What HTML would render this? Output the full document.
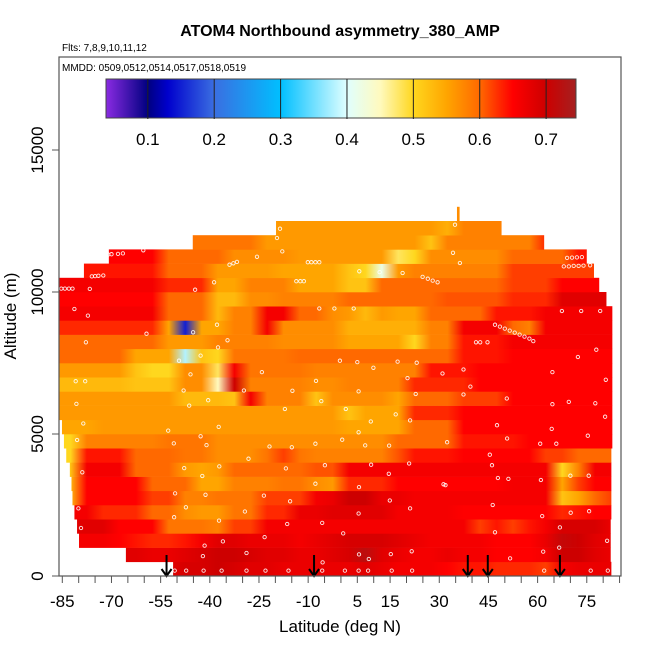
<!DOCTYPE html>
<html><head><meta charset="utf-8"><style>
html,body{margin:0;padding:0;background:#fff}
svg{display:block;font-family:"Liberation Sans",Arial,sans-serif}
</style></head><body>
<svg id="chart" width="650" height="650" viewBox="0 0 650 650" xmlns="http://www.w3.org/2000/svg">
<defs id="defs">
<clipPath id="plotclip"><rect x="59" y="57" width="562" height="519"/></clipPath>
<linearGradient id="cbgrad" x1="0" x2="1" y1="0" y2="0"></linearGradient>
</defs>
<text x="340" y="36" font-size="16" font-weight="bold" text-anchor="middle">ATOM4 Northbound asymmetry_380_AMP</text>
<text x="62" y="51" font-size="10">Flts: 7,8,9,10,11,12</text>
<g id="cells" clip-path="url(#plotclip)"></g>
<g id="points" clip-path="url(#plotclip)"></g>
<g id="arrows"></g>
<rect x="59" y="57" width="562" height="519" fill="none" stroke="#555" stroke-width="1.2"/>
<text x="62" y="71" font-size="10">MMDD: 0509,0512,0514,0517,0518,0519</text>
<g id="colorbar"></g>
<g id="xaxis"></g>
<g id="yaxis"></g>
<text x="340" y="632" font-size="17" text-anchor="middle">Latitude (deg N)</text>
<text x="16" y="316" font-size="17" text-anchor="middle" transform="rotate(-90 16 316)">Altitude (m)</text>
</svg>
<script>
// ---- data ----
const binStartLats = [-90,-85,-80,-75,-70,-65,-60,-55,-50,-45,-40,-35,-30,-25,-20,-15,-10,-5,0,5,10,15,20,25,30,35,40,45,50,55,60,65,70,75,80];
const rowBottomAlts = [0,500,1000,1500,2000,2500,3000,3500,4000,4500,5000,5500,6000,6500,7000,7500,8000,8500,9000,9500,10000,10500,11000,11500,12000];
const rowLeftLats = [-51.2,-65.6,-79.9,-80.5,-81.3,-81.9,-82.2,-82.7,-83.8,-84.5,-85.1,-90,-90,-90,-90,-90,-90,-90,-90,-90,-90,-78.4,-70.8,-45.2,-19.8];
const rowRightLats = [82.5,82.3,82.3,82.3,82.5,82.5,82.5,82.5,82.5,82.8,82.8,82.8,82.8,82.8,82.8,82.8,82.8,82.8,82.8,81,78.8,77.2,75,62,49];
const row0 = [.68,.68,.68,.68,.68,.68,.68,.68,.69,.69,.7,.69,.68,.68,.67,.67,.67,.67,.67,.68,.67,.66,.66,.66,.65,.64,.64,.63,.63,.63,.62,.66,.67,.67,.67];
const row1 = [.68,.68,.68,.68,.68,.68,.67,.67,.68,.69,.7,.7,.69,.68,.68,.67,.67,.68,.69,.72,.68,.67,.66,.66,.67,.66,.66,.65,.65,.65,.66,.7,.7,.68,.67];
const row2 = [.66,.66,.66,.66,.65,.64,.63,.63,.64,.66,.68,.68,.67,.67,.67,.66,.67,.68,.69,.69,.69,.68,.67,.66,.66,.66,.66,.65,.65,.65,.67,.71,.7,.68,.67];
const row3 = [.68,.68,.68,.68,.65,.65,.65,.59,.59,.59,.58,.62,.62,.66,.66,.66,.66,.66,.66,.66,.66,.66,.66,.66,.66,.66,.62,.64,.62,.64,.66,.69,.69,.69,.67];
const row4 = [.66,.66,.66,.63,.63,.63,.6,.6,.57,.56,.56,.59,.59,.63,.63,.67,.67,.68,.68,.68,.68,.66,.66,.66,.66,.65,.65,.65,.65,.65,.65,.63,.64,.65,.65];
const row5 = [.52,.53,.65,.65,.65,.65,.62,.62,.58,.58,.59,.59,.59,.62,.62,.62,.66,.67,.7,.7,.67,.67,.66,.66,.66,.66,.66,.66,.66,.66,.66,.52,.55,.6,.62];
const row6 = [.53,.53,.65,.65,.65,.65,.6,.6,.6,.55,.55,.58,.58,.58,.59,.59,.57,.56,.63,.63,.63,.65,.65,.65,.65,.65,.65,.65,.66,.66,.66,.55,.62,.65,.65];
const row7 = [.52,.52,.66,.66,.66,.6,.6,.6,.56,.55,.56,.6,.6,.6,.6,.6,.61,.61,.66,.66,.66,.66,.66,.66,.66,.66,.66,.66,.66,.66,.66,.5,.58,.66,.66];
const row8 = [.5,.5,.64,.64,.64,.6,.6,.6,.59,.59,.57,.57,.57,.59,.62,.59,.58,.58,.58,.58,.58,.61,.64,.64,.64,.65,.65,.65,.65,.65,.62,.62,.6,.6,.6];
const row9 = [.5,.5,.58,.58,.58,.58,.58,.59,.59,.59,.57,.57,.57,.57,.57,.57,.57,.57,.57,.57,.57,.6,.6,.6,.6,.64,.64,.64,.64,.65,.65,.65,.65,.65,.65];
const row10 = [.55,.55,.55,.56,.56,.56,.56,.56,.56,.56,.56,.56,.56,.56,.56,.56,.56,.56,.55,.55,.55,.55,.6,.6,.6,.65,.65,.65,.65,.65,.65,.65,.65,.65,.65];
const row11 = [.56,.56,.56,.56,.56,.56,.56,.56,.56,.56,.56,.56,.56,.56,.56,.56,.56,.56,.52,.55,.55,.55,.63,.63,.63,.65,.65,.65,.65,.65,.65,.65,.65,.65,.65];
const row12 = [.56,.56,.56,.56,.56,.56,.56,.56,.53,.53,.53,.52,.66,.58,.58,.58,.52,.57,.57,.57,.57,.55,.6,.6,.6,.62,.62,.62,.65,.65,.65,.65,.65,.65,.65];
const row13 = [.53,.53,.53,.53,.53,.52,.52,.52,.57,.57,.45,.7,.58,.58,.58,.58,.57,.57,.58,.58,.58,.58,.63,.63,.63,.63,.65,.65,.65,.65,.65,.65,.65,.65,.65];
const row14 = [.56,.56,.56,.56,.56,.52,.5,.5,.57,.57,.48,.66,.59,.59,.59,.59,.58,.58,.58,.58,.58,.58,.58,.64,.64,.64,.65,.65,.65,.65,.65,.65,.65,.65,.65];
const row15 = [.6,.6,.6,.6,.6,.55,.55,.55,.38,.52,.5,.59,.59,.59,.59,.6,.6,.6,.6,.6,.6,.6,.6,.6,.6,.64,.64,.64,.65,.65,.65,.65,.65,.65,.65];
const row16 = [.6,.6,.6,.6,.6,.6,.6,.56,.56,.56,.58,.58,.58,.58,.57,.57,.57,.57,.55,.55,.55,.55,.5,.58,.58,.64,.64,.64,.66,.66,.66,.66,.66,.66,.66];
const row17 = [.63,.63,.63,.63,.63,.63,.63,.55,.15,.55,.55,.58,.58,.66,.57,.57,.57,.57,.54,.54,.54,.54,.54,.58,.58,.66,.66,.66,.6,.58,.66,.66,.66,.66,.66];
const row18 = [.66,.66,.66,.66,.66,.66,.66,.6,.6,.6,.53,.58,.58,.66,.66,.6,.6,.57,.56,.53,.56,.55,.55,.6,.6,.6,.6,.64,.64,.64,.66,.66,.66,.66,.66];
const row19 = [.65,.65,.65,.65,.65,.65,.65,.6,.6,.6,.53,.53,.57,.57,.58,.58,.58,.58,.6,.6,.6,.6,.6,.6,.61,.61,.61,.61,.63,.63,.63,.68,.68,.68,.68];
const row20 = [.66,.66,.66,.66,.66,.66,.66,.63,.63,.63,.55,.55,.58,.58,.58,.55,.55,.55,.52,.52,.6,.6,.6,.6,.6,.6,.6,.6,.62,.62,.62,.65,.65,.65,.65];
const row21 = [.64,.64,.64,.64,.64,.64,.64,.6,.6,.6,.56,.56,.56,.56,.55,.55,.55,.55,.52,.5,.42,.56,.58,.58,.58,.58,.58,.58,.62,.62,.62,.62,.62,.62,.62];
const row22 = [.65,.65,.65,.65,.65,.65,.65,.6,.6,.6,.6,.57,.57,.57,.57,.56,.56,.56,.56,.56,.56,.48,.5,.57,.57,.57,.57,.57,.6,.6,.6,.6,.64,.64,.64];
const row23 = [.59,.59,.59,.59,.59,.59,.59,.59,.59,.59,.59,.59,.59,.56,.56,.56,.56,.56,.56,.56,.56,.56,.56,.52,.58,.58,.58,.58,.58,.58,.63,.63,.63,.63,.63];
const row24 = [.56,.56,.56,.56,.56,.56,.56,.56,.56,.56,.56,.56,.56,.56,.56,.56,.56,.56,.56,.56,.56,.56,.56,.56,.54,.58,.58,.58,.58,.58,.58,.58,.58,.58,.58];
const rowValues = [row0,row1,row2,row3,row4,row5,row6,row7,row8,row9,row10,row11,row12,row13,row14,row15,row16,row17,row18,row19,row20,row21,row22,row23,row24];
const spikeLat = [35.4, 36.2];
const spikeAlt = [12500, 13000];
const spikeValue = 0.57;
const pointLats = [-50.7,-47.2,-41.9,-36.4,-28.8,-23,-16,-5.7,1.2,5.4,8.3,15.5,21.7,62,76.2,81.4,-41.6,-36,-23.3,-28.8,-42.1,-5.6,5.5,8.5,15.2,21.6,51.6,61.7,66.6,81.2,66.8,61.4,70.1,75.7,47,46.3,47.9,51.1,61,70,75.6,46.1,45.4,47.6,50.7,60.8,65.7,75.3,80.6,64.3,80.8,64.5,72.3,77.9,64.5,69.5,77.6,50.6,37.4,39.5,37.4,31,32.4,31.9,20.8,21.1,14.7,14.6,9.2,5.5,5.4,0.7,-5.7,-4.9,-7.8,-7.8,0.4,-6,-7.6,-0.3,5,9.9,17.3,23.1,20.3,22.8,16.7,9.1,5.4,7.4,1.5,5.4,-14.8,-17.1,-24.1,-29.6,-40.5,-46.3,-48,-45.9,-49.4,-42.8,-37.5,-34.6,-37.8,-45.1,-59.3,-77.8,-80.9,-78,-80.7,-78.6,-80.5,-78.9,-80.1,-79.3,-52.7,-37.3,-42.8,-51,-41,-21.8,-15,-28.2,-37.1,-47.8,-42.3,-50.6,-47.3,-50.9,-37.2,-41.3,-29.3,-23.5,-16.8,-15.5,-16.4,14.9,21.1,31.3,-77.2,-81.3,-85.3,-84.2,-83,-81.9,-76.6,-76,-75,-74,-72.5,-71,-70,-68,-66.5,-60.3,-44.5,-38.7,-34,-32.8,-31.7,-25.6,-17.9,-19.5,-18.6,-10.1,-9,-7.8,-6.6,-13.6,-12.4,-11.3,5.6,11.8,18.8,24.9,26.5,28,29.5,34.2,36.3,34.8,68,69.5,71,72.5,74,76,69,70.5,72,73.5,47,48.5,50,51.5,53,54.5,56,57.5,58.7,41.2,42.5,44.7,-6.6,-2,3.9,67.4,73.3,79.1];
const pointAlts = [190,190,190,190,190,190,190,190,190,190,190,190,190,190,190,190,1070,1220,1370,810,700,480,760,600,770,870,620,860,1000,1240,1710,2110,2230,2280,1540,2500,3450,3420,3380,3530,3530,3900,4270,5310,4840,4660,4660,4940,5610,5180,6910,7180,7710,7970,6050,6130,6080,6250,6390,6670,7270,7130,4710,3200,3960,5480,4590,3600,3920,3130,2200,1500,1870,3900,3250,4660,4800,6160,6870,7580,7530,7330,7550,7510,6970,6410,5690,5440,5060,4600,5880,6500,6520,5880,7180,6530,6190,6000,6530,7100,7580,7760,8050,8300,8850,8580,8530,8230,6860,6860,6060,5370,4790,3650,2380,1690,5120,5250,4920,4670,4610,4560,4530,4130,3860,3800,3520,2910,2420,2070,1950,2860,2270,2830,3790,2630,1830,2660,2380,3230,9170,9400,10120,10120,10120,10120,10110,10550,10560,10570,10580,11320,11330,11340,11360,11470,10080,10340,10960,11010,11060,11240,11430,11900,12230,11050,11050,11050,11050,10380,10380,10380,10730,10700,10670,10530,10470,10400,10340,11380,11020,12370,10900,10900,10920,10920,10930,10940,11200,11210,11220,11230,8850,8780,8710,8640,8570,8500,8430,8360,8270,8230,8230,8230,9420,9420,9420,9330,9330,9330];
const arrowLats = [-53.2,-8.2,38.7,44.8,66.8];
const colorbarTicks = [0.1,0.2,0.3,0.4,0.5,0.6,0.7];
const colorbarMin = 0.037, colorbarMax = 0.745;
const xTickValues = [-85,-80,-75,-70,-65,-60,-55,-50,-45,-40,-35,-30,-25,-20,-15,-10,-5,0,5,10,15,20,25,30,35,40,45,50,55,60,65,70,75,80,85];
const xTickLabels = [-85,-70,-55,-40,-25,-10,5,15,30,45,60,75];
const yTickValues = [0,5000,10000,15000];

// ---- scales ----
const NS = "http://www.w3.org/2000/svg";
function xScale(lat){ return 62.3 + (lat + 85) * 3.278; }
function yScale(alt){ return 576 - alt * 0.0284; }
const cmapStops = [[0.037,[138,43,226]],[0.1,[0,0,128]],[0.13,[0,0,205]],[0.2,[58,110,225]],[0.3,[0,191,255]],[0.4,[224,255,255]],[0.45,[255,250,190]],[0.5,[255,215,30]],[0.55,[255,165,0]],[0.6,[255,105,0]],[0.63,[255,40,0]],[0.65,[255,0,0]],[0.7,[205,0,0]],[0.745,[165,32,32]]];
function cmap(v){
  if (v <= cmapStops[0][0]) return rgb(cmapStops[0][1]);
  for (let i=1;i<cmapStops.length;i++){
    if (v <= cmapStops[i][0]){
      const a=cmapStops[i-1], b=cmapStops[i], t=(v-a[0])/(b[0]-a[0]);
      return rgb(a[1].map((c,k)=>c+(b[1][k]-c)*t));
    }
  }
  return rgb(cmapStops[cmapStops.length-1][1]);
}
function rgb(c){ return "rgb(" + c.map(x=>Math.round(x)).join(",") + ")"; }
function mk(tag, attrs, parent){ const e=document.createElementNS(NS,tag); for(const k in attrs) e.setAttribute(k, attrs[k]); parent.appendChild(e); return e; }

// ---- heatmap (one smooth row per altitude bin, stops from data) ----
const defs = document.getElementById("defs");
const cells = document.getElementById("cells");
const gx0 = xScale(binStartLats[0]), gx1 = xScale(binStartLats[binStartLats.length-1] + 5);
rowValues.forEach((vals, r) => {
  const a0 = rowBottomAlts[r], a1 = a0 + 500;
  const gid = "rowgrad" + r;
  const g = mk("linearGradient", {id:gid, gradientUnits:"userSpaceOnUse", x1:gx0, x2:gx1, y1:0, y2:0}, defs);
  vals.forEach((v, i) => {
    const c = (xScale(binStartLats[i] + 2.5) - gx0) / (gx1 - gx0);
    mk("stop", {offset:c.toFixed(4), "stop-color":cmap(v)}, g);
  });
  const x0 = xScale(rowLeftLats[r]), x1 = xScale(rowRightLats[r]);
  const el = mk("rect", {x:x0.toFixed(2), y:yScale(a1).toFixed(2), width:(x1-x0).toFixed(2), height:(yScale(a0)-yScale(a1)+0.3).toFixed(2), fill:"url(#"+gid+")"}, cells);
  
  
});
{
  const el = mk("rect", {x:xScale(spikeLat[0]), y:yScale(spikeAlt[1]), width:xScale(spikeLat[1])-xScale(spikeLat[0]), height:yScale(spikeAlt[0])-yScale(spikeAlt[1]), fill:cmap(spikeValue)}, cells);
  
  
}

// ---- points ----
const pts = document.getElementById("points");
pointLats.forEach((lat, i) => {
  const el = mk("circle", {cx:xScale(lat).toFixed(1), cy:yScale(pointAlts[i]).toFixed(1), r:1.7, fill:"none", stroke:"#fff", "stroke-width":0.9, opacity:0.9}, pts);
  
  
});

// ---- arrows ----
const arr = document.getElementById("arrows");
arrowLats.forEach(lat => {
  const x = xScale(lat);
  const g = mk("g", {}, arr);
  
  
  mk("line", {x1:x, y1:555, x2:x, y2:575, stroke:"#000", "stroke-width":2}, g);
  mk("polyline", {points:(x-5)+",569 "+x+",576 "+(x+5)+",569", fill:"none", stroke:"#000", "stroke-width":2}, g);
});

// ---- colorbar ----
const cbX0 = 106, cbX1 = 576, cbY0 = 79, cbY1 = 118;
function cbScale(v){ return cbX0 + (v - colorbarMin) / (colorbarMax - colorbarMin) * (cbX1 - cbX0); }
const grad = document.getElementById("cbgrad");
cmapStops.forEach(s => {
  mk("stop", {offset:((s[0]-colorbarMin)/(colorbarMax-colorbarMin)).toFixed(4), "stop-color":rgb(s[1])}, grad);
});
const cb = document.getElementById("colorbar");
{
  const el = mk("rect", {x:cbX0, y:cbY0, width:cbX1-cbX0, height:cbY1-cbY0, fill:"url(#cbgrad)", stroke:"#444", "stroke-width":1}, cb);
  
  
}
colorbarTicks.forEach(t => {
  const x = cbScale(t);
  mk("line", {x1:x, y1:cbY0, x2:x, y2:cbY1+1, stroke:"#222", "stroke-width":1}, cb);
  const el = mk("text", {x:x, y:145, "font-size":17, "text-anchor":"middle"}, cb);
  el.textContent = t.toFixed(1);
  
  
});

// ---- axes ----
const xa = document.getElementById("xaxis");
xTickValues.forEach(v => {
  const x = xScale(v);
  mk("line", {x1:x, y1:576, x2:x, y2:583, stroke:"#555", "stroke-width":1}, xa);
});
xTickLabels.forEach(v => {
  const el = mk("text", {x:xScale(v), y:607, "font-size":17, "text-anchor":"middle"}, xa);
  el.textContent = String(v);
  
  
});
const ya = document.getElementById("yaxis");
yTickValues.forEach(v => {
  const y = yScale(v);
  mk("line", {x1:52, y1:y, x2:59, y2:y, stroke:"#555", "stroke-width":1}, ya);
  const el = mk("text", {x:43, y:y, "font-size":17, "text-anchor":"middle", transform:"rotate(-90 43 "+y+")"}, ya);
  el.textContent = String(v);
  
  
});
</script>
</body></html>
